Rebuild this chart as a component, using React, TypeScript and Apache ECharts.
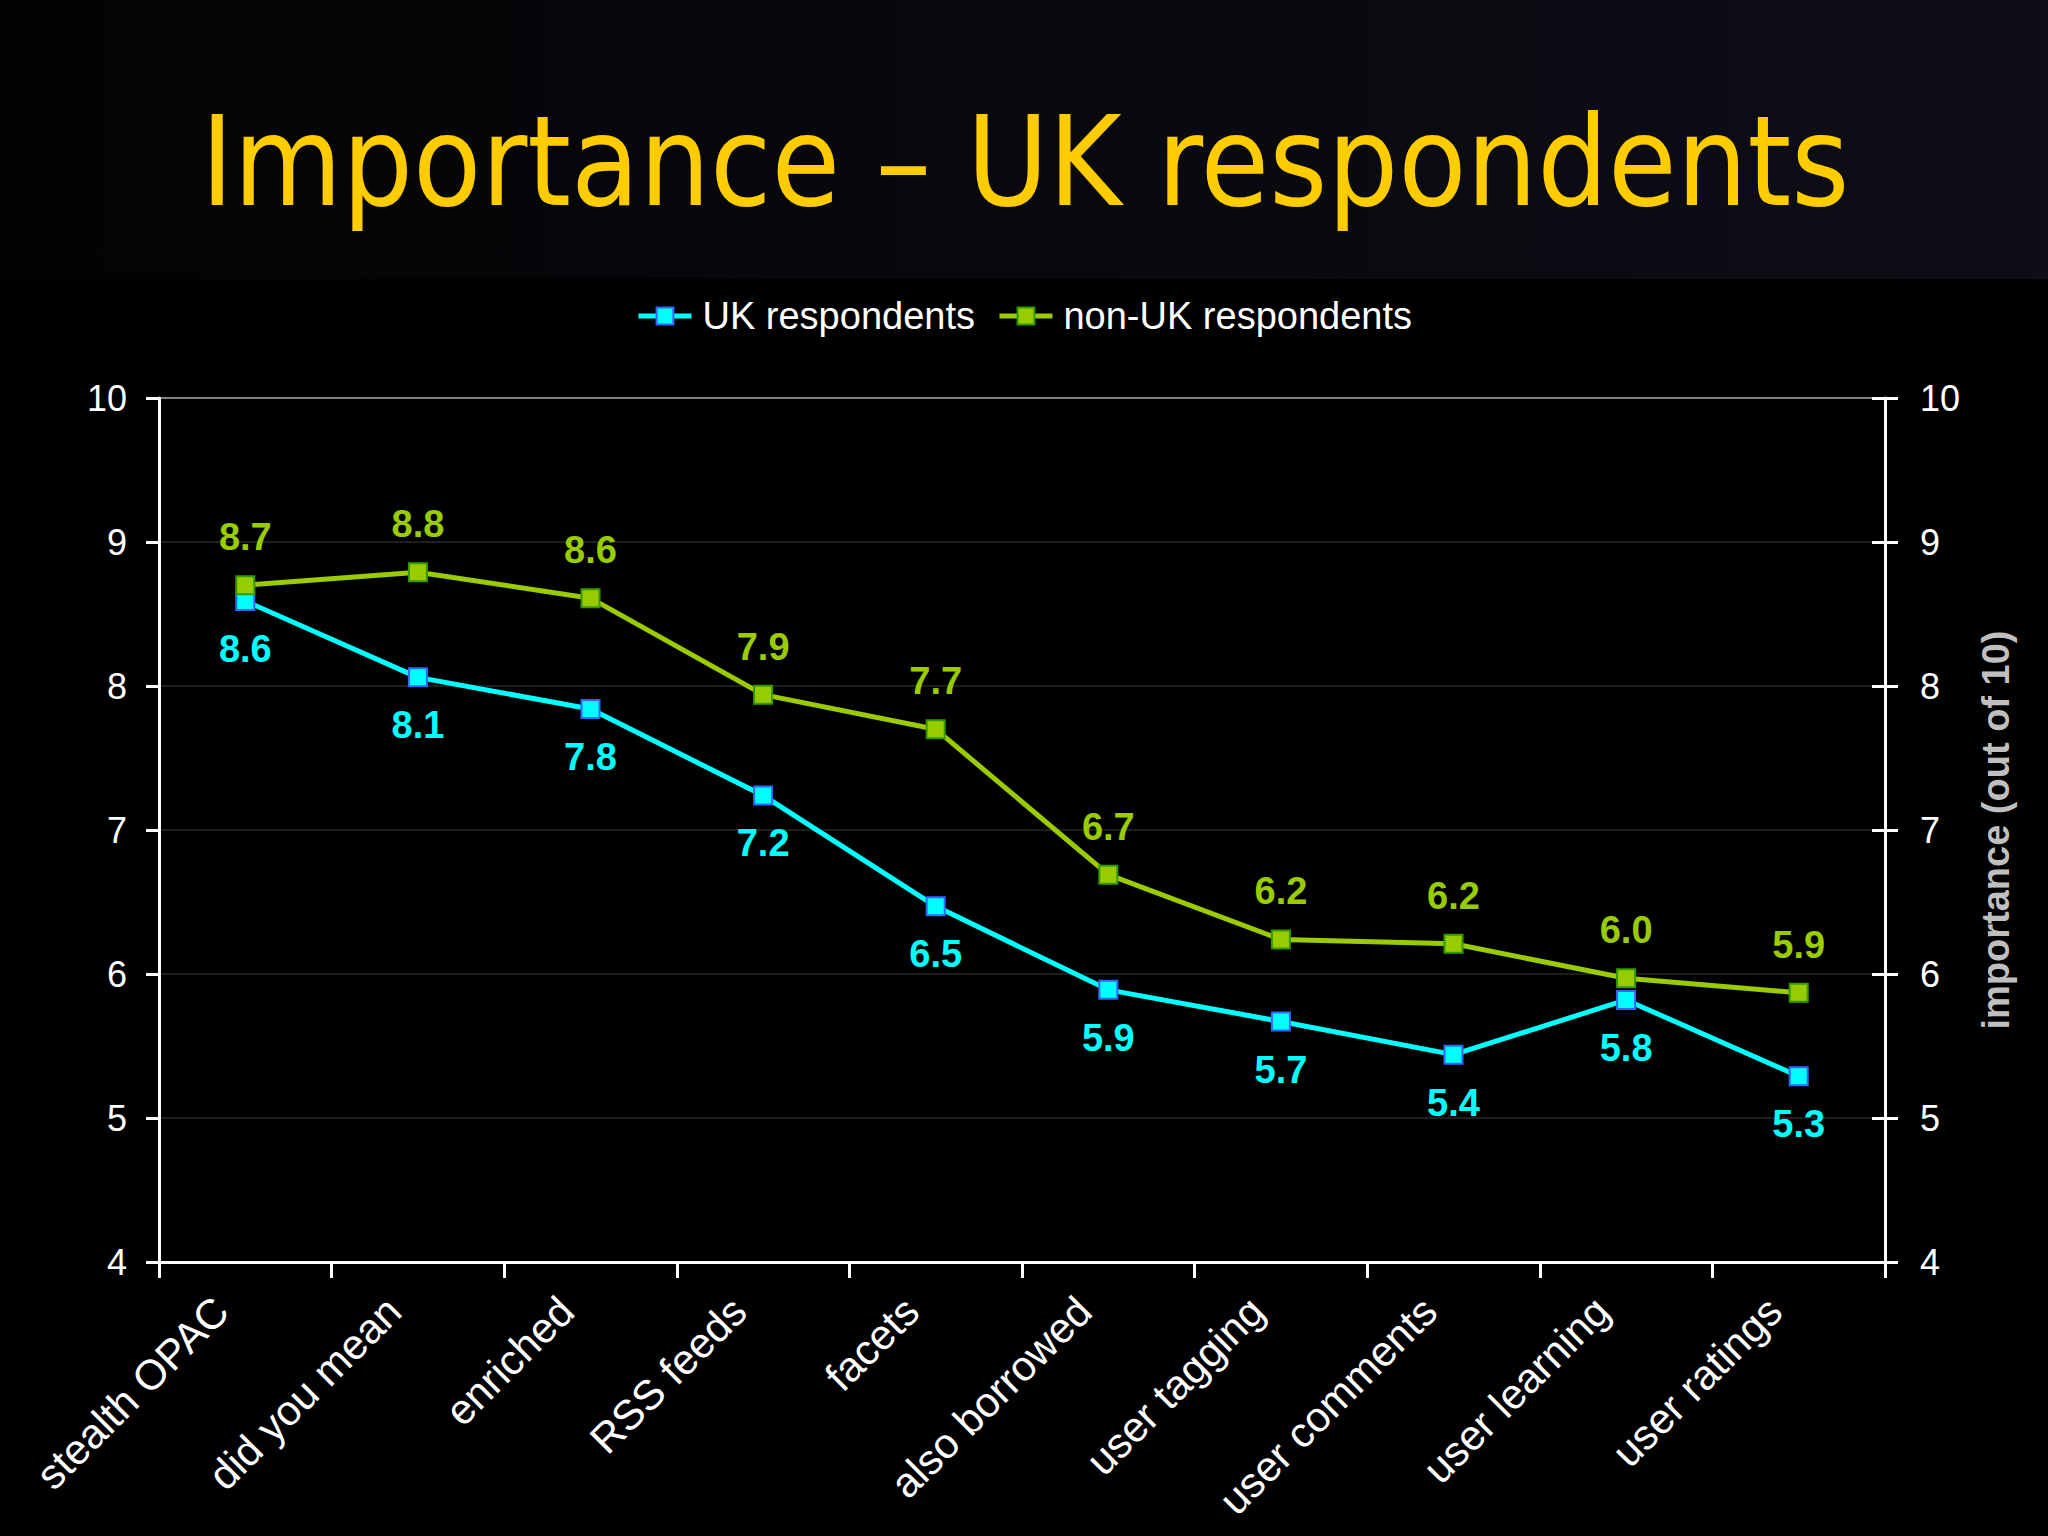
import React, { useEffect, useRef } from "react";
import * as echarts from "echarts";

const titleText = "Importance – UK respondents";
const categories = [
  "stealth OPAC",
  "did you mean",
  "enriched",
  "RSS feeds",
  "facets",
  "also borrowed",
  "user tagging",
  "user comments",
  "user learning",
  "user ratings",
];
const ukName = "UK respondents";
const nonUkName = "non-UK respondents";
const ukValues = [8.59, 8.06, 7.84, 7.24, 6.47, 5.89, 5.67, 5.44, 5.82, 5.29];
const nonUkValues = [8.7, 8.79, 8.61, 7.94, 7.7, 6.69, 6.24, 6.21, 5.97, 5.87];
const yMin = 4;
const yMax = 10;
const yInterval = 1;
const yAxisName = "importance (out of 10)";

const FONT = "Liberation Sans, Arial, sans-serif";
const CYAN = "#00FFFF";
const GREEN = "#99CC00";

export default function App() {
  const ref = useRef<HTMLDivElement>(null);
  useEffect(() => {
    document.body.style.margin = "0";
    document.body.style.background = "#000";
    const chart = echarts.init(ref.current!, null, { renderer: "svg" });
    const labelFmt = (p: any) => Number(p.value).toFixed(1);
    chart.setOption({
      animation: false,
      backgroundColor: "#000000",
      graphic: [
        {
          type: "rect",
          z: -10,
          shape: { x: 0, y: 0, width: 2048, height: 279 },
          style: {
            fill: new echarts.graphic.LinearGradient(0, 0, 1, 0, [
              { offset: 0, color: "#030304" },
              { offset: 1, color: "#0d0e17" },
            ]),
          },
        },
        {
          type: "text",
          x: 1025,
          y: 162,
          scaleX: 0.9,
          style: {
            text: titleText,
            fontSize: 124,
            fontFamily: "DejaVu Sans",
            fill: "#FFCC00",
            align: "center",
            verticalAlign: "middle",
          },
        },
      ],
      legend: {
        top: 292,
        left: "center",
        itemWidth: 53,
        itemHeight: 21,
        itemGap: 22,
        lineStyle: { width: 5 },
        textStyle: { color: "#FFFFFF", fontSize: 38, fontFamily: FONT, padding: [0, 0, 0, 6] },
        data: [ukName, nonUkName],
      },
      grid: { left: 159, right: 163, top: 398, bottom: 274, containLabel: false },
      xAxis: {
        type: "category",
        data: categories,
        boundaryGap: true,
        axisLine: { lineStyle: { color: "#FFFFFF", width: 3 } },
        axisTick: { show: true, length: 16, lineStyle: { color: "#FFFFFF", width: 3 } },
        axisLabel: {
          interval: 0,
          rotate: 45,
          margin: 18,
          padding: [0, 34, 0, 0],
          color: "#FFFFFF",
          fontSize: 42,
          fontFamily: FONT,
        },
      },
      yAxis: [
        {
          type: "value",
          position: "left",
          min: yMin,
          max: yMax,
          interval: yInterval,
          axisLine: { show: true, lineStyle: { color: "#FFFFFF", width: 3 } },
          axisTick: { show: true, length: 13, lineStyle: { color: "#FFFFFF", width: 3 } },
          axisLabel: { color: "#FFFFFF", fontSize: 36, fontFamily: FONT, margin: 32 },
          splitLine: {
            show: true,
            lineStyle: {
              color: ["#000000", "#1e1e1e", "#1e1e1e", "#1e1e1e", "#1e1e1e", "#1e1e1e", "#808080"],
              width: 2,
            },
          },
        },
        {
          type: "value",
          position: "right",
          min: yMin,
          max: yMax,
          interval: yInterval,
          name: yAxisName,
          nameLocation: "middle",
          nameRotate: 90,
          nameGap: 92,
          nameTextStyle: { color: "#BFBFBF", fontSize: 38, fontWeight: "bold", fontFamily: FONT },
          axisLine: { show: true, lineStyle: { color: "#FFFFFF", width: 3 } },
          axisTick: { show: true, length: 13, lineStyle: { color: "#FFFFFF", width: 3 } },
          axisLabel: { color: "#FFFFFF", fontSize: 36, fontFamily: FONT, margin: 35 },
          splitLine: { show: false },
        },
        {
          type: "value",
          position: "right",
          min: yMin,
          max: yMax,
          interval: yInterval,
          axisLine: { show: false },
          axisTick: { show: true, inside: true, length: 13, lineStyle: { color: "#FFFFFF", width: 3 } },
          axisLabel: { show: false },
          splitLine: { show: false },
        },
      ],
      series: [
        {
          name: ukName,
          type: "line",
          data: ukValues,
          yAxisIndex: 0,
          symbol: "rect",
          symbolSize: 18,
          lineStyle: { color: CYAN, width: 5 },
          itemStyle: { color: CYAN, borderColor: "#3366FF", borderWidth: 2 },
          label: {
            show: true,
            position: "bottom",
            distance: 19,
            color: CYAN,
            fontSize: 38,
            fontWeight: "bold",
            fontFamily: FONT,
            formatter: labelFmt,
          },
          z: 3,
        },
        {
          name: nonUkName,
          type: "line",
          data: nonUkValues,
          yAxisIndex: 0,
          symbol: "rect",
          symbolSize: 18,
          lineStyle: { color: GREEN, width: 5 },
          itemStyle: { color: GREEN, borderColor: "#339900", borderWidth: 2 },
          label: {
            show: true,
            position: "top",
            distance: 19,
            color: GREEN,
            fontSize: 38,
            fontWeight: "bold",
            fontFamily: FONT,
            formatter: labelFmt,
          },
          z: 4,
        },
      ],
    });
    return () => chart.dispose();
  }, []);
  return (
    <div
      ref={ref}
      style={{ position: "fixed", left: 0, top: 0, width: 2048, height: 1536, background: "#000" }}
    />
  );
}
